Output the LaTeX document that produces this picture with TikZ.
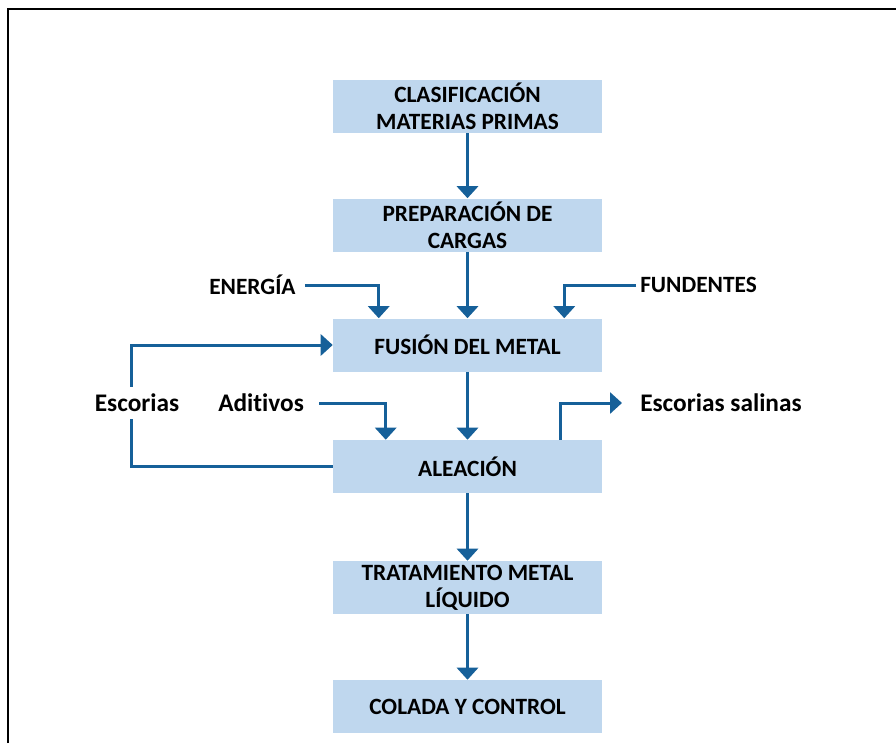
\documentclass[tikz,border=0pt]{standalone}
\usepackage{fontspec}
\setmainfont[Ligatures=NoCommon]{Carlito}
\usetikzlibrary{calc,arrows.meta}

\definecolor{flowblue}{RGB}{22,96,153}
\definecolor{boxblue}{RGB}{191,215,238}

\tikzset{
  procbox/.style={fill=boxblue, minimum width=201.75pt, minimum height=39.75pt,
    inner sep=0pt, align=center, font=\bfseries\fontsize{17.5}{20.25}\selectfont},
  flowlabel/.style={inner sep=0pt, font=\bfseries\fontsize{17.5}{20.25}\selectfont},
  sidelabel/.style={inner sep=0pt, font=\bfseries\fontsize{19}{22}\selectfont},
  flow/.style={draw=flowblue, line width=2.25pt,
    -{Triangle[width=15.75pt,length=9pt]}, flowblue}
}

\begin{document}
\begin{tikzpicture}[x=0.75pt,y=-0.75pt]
  % fix the visible area of the figure
  \useasboundingbox (0,0) rectangle (896,743);
  \draw [line width=1.5pt] (8,743) -- (8,9) -- (896,9);

  % the process steps
  \node [procbox] (clasif)  at (467.5,106.5) {CLASIFICACIÓN\\MATERIAS PRIMAS};
  \node [procbox] (prep)    at (467.5,225)   {PREPARACIÓN DE\\CARGAS};
  \node [procbox] (fusion)  at (467.5,345)   {FUSIÓN DEL METAL};
  \node [procbox] (aleacion) at (467.5,466.5) {ALEACIÓN};
  \node [procbox] (tratam)  at (467.5,587.5) {TRATAMIENTO METAL\\LÍQUIDO};
  \node [procbox] (colada)  at (467.5,706.5) {COLADA Y CONTROL};

  % inputs and outputs
  \node [flowlabel,anchor=west] (energia)   at (209,285) {ENERGÍA};
  \node [flowlabel,anchor=west] (fundentes) at (640,285) {FUNDENTES};
  \node [sidelabel,anchor=west] (aditivos)  at (218,403) {Aditivos};
  \node [sidelabel,anchor=west] (salinas)   at (640,403) {Escorias salinas};

  % main flow
  \draw [flow] (clasif) -- (prep);
  \draw [flow] (prep) -- (fusion);
  \draw [flow] (fusion) -- (aleacion);
  \draw [flow] (aleacion) -- (tratam);
  \draw [flow] (tratam) -- (colada);

  % side arrows
  \draw [flow] ($(energia.east)+(9,0)$) -| ($(fusion.north west)+(46,0)$);
  \draw [flow] ($(fundentes.west)+(-4,0)$) -| ($(fusion.north east)+(-38,0)$);
  \draw [flow] ($(aditivos.east)+(15,0)$) -| ($(aleacion.north west)+(53,0)$);
  \draw [flow] ($(aleacion.north east)+(-42,0)$) |- ($(salinas.west)+(-18,0)$);

  % slag goes back to the furnace
  \draw [flow] (aleacion.west) -- ++(-201,0) |- (fusion.west);
  \node [sidelabel,fill=white,inner ysep=5pt,inner xsep=0pt] (escorias)
    at (137,403) {Escorias};
\end{tikzpicture}
\end{document}
